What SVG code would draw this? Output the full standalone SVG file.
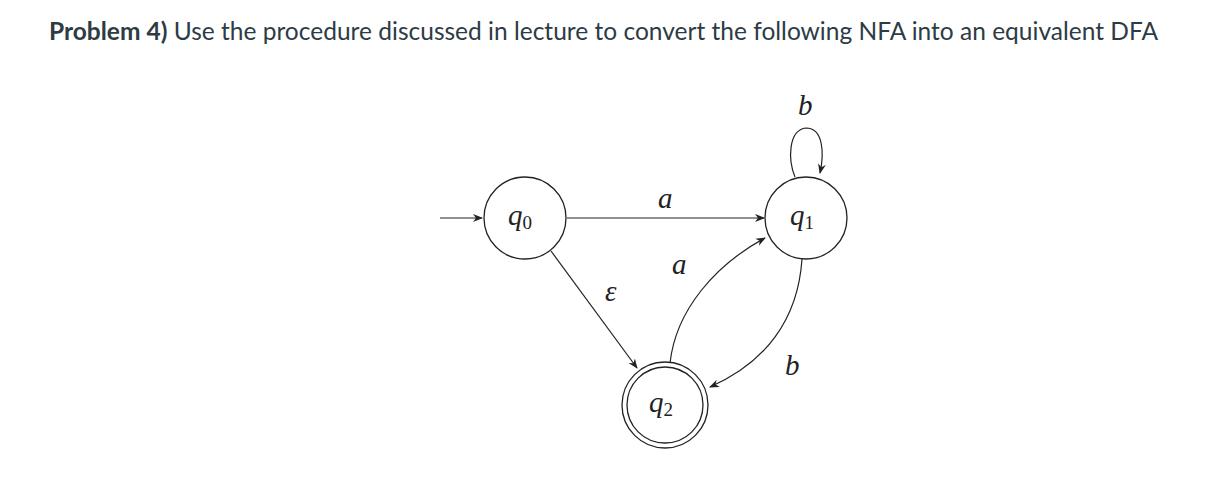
<svg xmlns="http://www.w3.org/2000/svg" width="1206" height="479" viewBox="0 0 1206 479">
<style>
.title{font-family:Lato,"Liberation Sans",sans-serif;font-size:24.5px;fill:#2d3b45}
.st{fill:#fff;stroke:#222;stroke-width:1.3}
.m{font-family:"Liberation Serif","DejaVu Serif",serif;font-style:italic;font-size:29px;fill:#222}
.sub{font-style:normal;font-size:19px}
.e{fill:none;stroke:#222;stroke-width:1.2}
</style>
<defs>
<marker id="ah" viewBox="0 0 10 10" refX="9" refY="5" markerWidth="10" markerHeight="10" markerUnits="userSpaceOnUse" orient="auto">
<path d="M0,1 L10,5 L0,9 L3,5 Z" fill="#222"/>
</marker>
</defs>
<rect width="1206" height="479" fill="#fff"/>
<text class="title" x="49" y="40" textLength="1109" lengthAdjust="spacing"><tspan font-weight="bold">Problem 4)</tspan> Use the procedure discussed in lecture to convert the following NFA into an equivalent DFA</text>
<g id="edges">
<line class="e" x1="440" y1="218" x2="482" y2="218" marker-end="url(#ah)"/>
<line class="e" x1="567" y1="218" x2="764" y2="218" marker-end="url(#ah)"/>
<line class="e" x1="551" y1="251" x2="637" y2="368" marker-end="url(#ah)"/>
<path class="e" d="M670,363 C676,310 715,265 765,238" marker-end="url(#ah)"/>
<path class="e" d="M802,259 C798,320 765,363 710,387" marker-end="url(#ah)"/>
<path class="e" d="M795,177 C788,160 788,130 806,128 C824,128 824,155 820,173" marker-end="url(#ah)"/>
<text class="m" x="658" y="208">a</text>
<text class="m" x="672" y="274">a</text>
<text class="m" x="605" y="301">ε</text>
<text class="m" x="785" y="375">b</text>
<text class="m" x="798" y="115">b</text>
</g>
<g id="q0">
<circle class="st" cx="525" cy="218" r="41"/>
<text class="m" x="508" y="225">q<tspan class="sub" dy="4">0</tspan></text>
</g>
<g id="q1">
<circle class="st" cx="806" cy="218" r="41"/>
<text class="m" x="790" y="225">q<tspan class="sub" dy="4">1</tspan></text>
</g>
<g id="q2">
<circle class="st" cx="665" cy="405" r="43"/>
<circle class="st" cx="665" cy="405" r="38"/>
<text class="m" x="649" y="412">q<tspan class="sub" dy="4">2</tspan></text>
</g>
</svg>
